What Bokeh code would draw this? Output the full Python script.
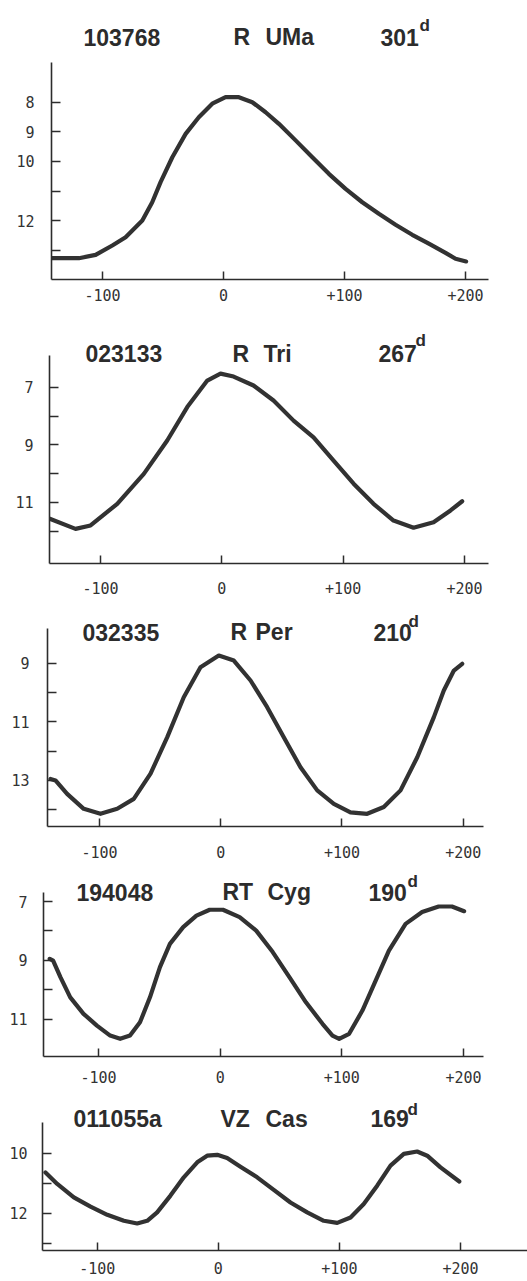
from bokeh.plotting import figure
from bokeh.models import Range1d, FixedTicker, Label
from bokeh.layouts import column
from bokeh.embed import file_html
from bokeh.resources import INLINE

# ---------------- data ----------------
star_ids = ["103768", "023133", "032335", "194048", "011055a"]
name_first = ["R", "R", "R", "RT", "VZ"]
name_second = ["UMa", "Tri", "Per", "Cyg", "Cas"]
periods = ["301", "267", "210", "190", "169"]

x_ticks = [-100, 0, 100, 200]
x_tick_labels = ["-100", "0", "+100", "+200"]

ruma_day = [-141.5, -119.5, -105.7, -91.9, -80.9, -67.1, -58.9, -52.0, -42.3, -31.3, -20.4, -9.3,
            1.7, 12.7, 23.8, 34.8, 45.8, 59.6, 73.4, 87.1, 100.9, 114.7, 128.4, 142.2,
            156.0, 169.7, 183.5, 191.8, 200.5]
ruma_mag = [13.27, 13.27, 13.16, 12.84, 12.56, 12.00, 11.38, 10.70, 9.86, 9.07, 8.51, 8.05,
            7.83, 7.83, 8.00, 8.34, 8.73, 9.29, 9.86, 10.42, 10.93, 11.38, 11.77, 12.14,
            12.48, 12.78, 13.09, 13.29, 13.38]

rtri_day = [-141.8, -120.6, -108.2, -86.2, -64.3, -45.0, -28.5, -12.0, -1.1, 9.7, 26.1, 42.6,
            59.1, 75.6, 92.1, 108.6, 125.0, 141.5, 158.0, 174.5, 188.5, 198.1]
rtri_mag = [11.57, 11.92, 11.80, 11.05, 10.01, 8.85, 7.69, 6.77, 6.53, 6.63, 6.94, 7.46,
            8.16, 8.74, 9.55, 10.35, 11.05, 11.63, 11.88, 11.69, 11.28, 10.96]

rper_day = [-140.4, -136.3, -126.7, -113.0, -99.2, -85.4, -71.7, -57.9, -44.2, -30.5, -16.7, -1.6,
            10.8, 24.6, 38.3, 52.0, 65.8, 79.6, 93.3, 107.0, 120.8, 134.5, 148.3, 162.1,
            175.8, 184.0, 192.3, 199.2]
rper_mag = [12.95, 13.00, 13.46, 13.97, 14.14, 13.97, 13.63, 12.77, 11.53, 10.16, 9.14, 8.74,
            8.91, 9.59, 10.50, 11.53, 12.55, 13.34, 13.80, 14.09, 14.14, 13.91, 13.34, 12.21,
            10.84, 9.93, 9.25, 9.02]

rtcyg_day = [-140.1, -137.3, -131.3, -123.2, -112.3, -101.3, -90.4, -82.2, -74.1, -65.9, -57.7,
             -49.5, -41.3, -30.4, -19.5, -8.6, 2.3, 16.0, 29.6, 43.2, 56.9, 70.5, 84.1, 92.3,
             97.8, 106.0, 116.9, 127.8, 138.7, 152.4, 166.0, 179.6, 190.5, 200.5]
rtcyg_mag = [8.95, 9.01, 9.57, 10.26, 10.82, 11.22, 11.56, 11.67, 11.56, 11.11, 10.26,
             9.23, 8.44, 7.87, 7.48, 7.28, 7.28, 7.53, 7.99, 8.72, 9.57, 10.43, 11.16, 11.56,
             11.67, 11.50, 10.71, 9.69, 8.67, 7.76, 7.36, 7.17, 7.17, 7.33]

vzcas_day = [-142.7, -133.0, -119.3, -105.5, -91.7, -78.0, -67.0, -58.7, -50.5, -39.5, -28.5,
             -17.4, -9.2, -0.9, 7.3, 18.3, 32.1, 45.8, 59.6, 73.4, 87.1, 98.2, 109.2, 120.1,
             131.2, 142.2, 153.2, 164.2, 172.5, 183.5, 199.0]
vzcas_mag = [10.65, 11.03, 11.48, 11.79, 12.06, 12.26, 12.35, 12.26, 11.98, 11.42, 10.81,
             10.31, 10.09, 10.06, 10.17, 10.46, 10.81, 11.23, 11.65, 11.98, 12.26, 12.33, 12.15,
             11.70, 11.09, 10.42, 10.03, 9.95, 10.09, 10.48, 10.95]

y_ticks = [[8, 9, 10, 11, 12, 13], [7, 8, 9, 10, 11, 12], [9, 10, 11, 12, 13, 14],
           [7, 8, 9, 10, 11], [10, 11, 12, 13]]
y_labeled = [[8, 9, 10, 12], [7, 9, 11], [9, 11, 13], [7, 9, 11], [10, 12]]

days = [ruma_day, rtri_day, rper_day, rtcyg_day, vzcas_day]
mags = [ruma_mag, rtri_mag, rper_mag, rtcyg_mag, vzcas_mag]

# ---------------- layout (page pixel geometry) ----------------
PAGE_W = 527
layout = [
    dict(top=0, h=320, left=51, xaxis=279, xm100=102, x200=465, ma=8, pa=101.7, ppm=29.6,
         atop=62, aend=488, tid=83, tn1=233, tn2=265, tper=380, td=419, base=36.7, dbase=25,
         xs=9, ys=17),
    dict(top=320, h=280, left=49, xaxis=563, xm100=100, x200=464, ma=7, pa=386.7, ppm=28.8,
         atop=355, aend=488, tid=85, tn1=232, tn2=263, tper=378, td=415, base=353, dbase=340,
         xs=18, ys=16),
    dict(top=600, h=265, left=47, xaxis=826, xm100=99, x200=462.7, ma=9, pa=662.7, ppm=29.3,
         atop=628, aend=483, tid=82, tn1=230, tn2=255, tper=373, td=408, base=631.7, dbase=621,
         xs=19, ys=18),
    dict(top=865, h=225, left=43, xaxis=1056, xm100=98, x200=463, ma=7, pa=901, ppm=29.4,
         atop=891.7, aend=483, tid=76, tn1=222, tn2=267, tper=368, td=407, base=891.7, dbase=881,
         xs=14, ys=16),
    dict(top=1090, h=191, left=42, xaxis=1250, xm100=96.7, x200=460, ma=10, pa=1152.5, ppm=30,
         atop=1121.7, aend=None, tid=73, tn1=220, tn2=265, tper=370, td=407, base=1118, dbase=1109,
         xs=11, ys=15),
]

INK = "#2c2c2c"
TITLE_FONT = "Liberation Sans"
TICK_FONT = "DejaVu Sans Mono"

figs = []
for i, L in enumerate(layout):
    sx = (L["x200"] - L["xm100"]) / 300.0
    x_start = -100 - (L["xm100"] - L["left"]) / sx
    x_end = x_start + (PAGE_W - L["left"]) / sx
    y_top = L["ma"] - (L["pa"] - L["top"]) / L["ppm"]
    y_bot = L["ma"] + (L["xaxis"] - L["pa"]) / L["ppm"]

    def px_x(px, x_start=x_start, sx=sx, left=L["left"]):
        return x_start + (px - left) / sx

    def px_y(py, y_top=y_top, L=L):
        return y_top + (py - L["top"]) / L["ppm"]

    p = figure(width=PAGE_W, height=L["h"],
               x_range=Range1d(x_start, x_end), y_range=Range1d(y_bot, y_top),
               output_backend="svg", toolbar_location=None,
               min_border_left=L["left"], min_border_right=0, min_border_top=0,
               min_border_bottom=L["top"] + L["h"] - L["xaxis"])
    p.frame_align = False
    p.outline_line_color = None
    p.xgrid.visible = False
    p.ygrid.visible = False
    p.background_fill_color = "white"
    p.border_fill_color = "white"

    xa = p.xaxis[0]
    xa.ticker = FixedTicker(ticks=x_ticks)
    xa.major_label_overrides = {t: s for t, s in zip(x_ticks, x_tick_labels)}
    xa.major_tick_in = 8
    xa.major_tick_out = 0
    xa.minor_tick_line_color = None
    xa.axis_line_width = 1.6
    xa.axis_line_color = INK
    xa.major_tick_line_width = 1.5
    xa.major_tick_line_color = INK
    xa.major_label_text_font = TICK_FONT
    xa.major_label_text_font_size = "15px"
    xa.major_label_text_color = "#333333"
    xa.major_label_standoff = L["xs"]
    if L["aend"] is not None:
        xa.bounds = (x_start, px_x(L["aend"]))

    ya = p.yaxis[0]
    ya.ticker = FixedTicker(ticks=y_ticks[i])
    ya.major_label_overrides = {t: (str(t) if t in y_labeled[i] else "") for t in y_ticks[i]}
    ya.major_tick_in = 9
    ya.major_tick_out = 0
    ya.minor_tick_line_color = None
    ya.axis_line_width = 1.6
    ya.axis_line_color = INK
    ya.major_tick_line_width = 1.5
    ya.major_tick_line_color = INK
    ya.major_label_text_font = TICK_FONT
    ya.major_label_text_font_size = "15px"
    ya.major_label_text_color = "#333333"
    ya.major_label_standoff = L["ys"]
    ya.bounds = (px_y(L["atop"]), y_bot)

    p.line(days[i], mags[i], line_width=4.2, line_color="#323232",
           line_join="round", line_cap="round")

    for txt, xpx in ((star_ids[i], L["tid"]), (name_first[i], L["tn1"]),
                     (name_second[i], L["tn2"]), (periods[i], L["tper"])):
        p.add_layout(Label(x=px_x(xpx), y=px_y(L["base"]), text=txt,
                           text_font=TITLE_FONT, text_font_style="bold",
                           text_font_size="23px", text_color=INK,
                           text_align="left", text_baseline="alphabetic"))
    p.add_layout(Label(x=px_x(L["td"]), y=px_y(L["dbase"]), text="d",
                       text_font=TITLE_FONT, text_font_style="bold",
                       text_font_size="17px", text_color=INK,
                       text_align="left", text_baseline="alphabetic"))
    figs.append(p)

page = column(*figs, spacing=0)
open("out.html", "w").write(file_html(page, INLINE))
